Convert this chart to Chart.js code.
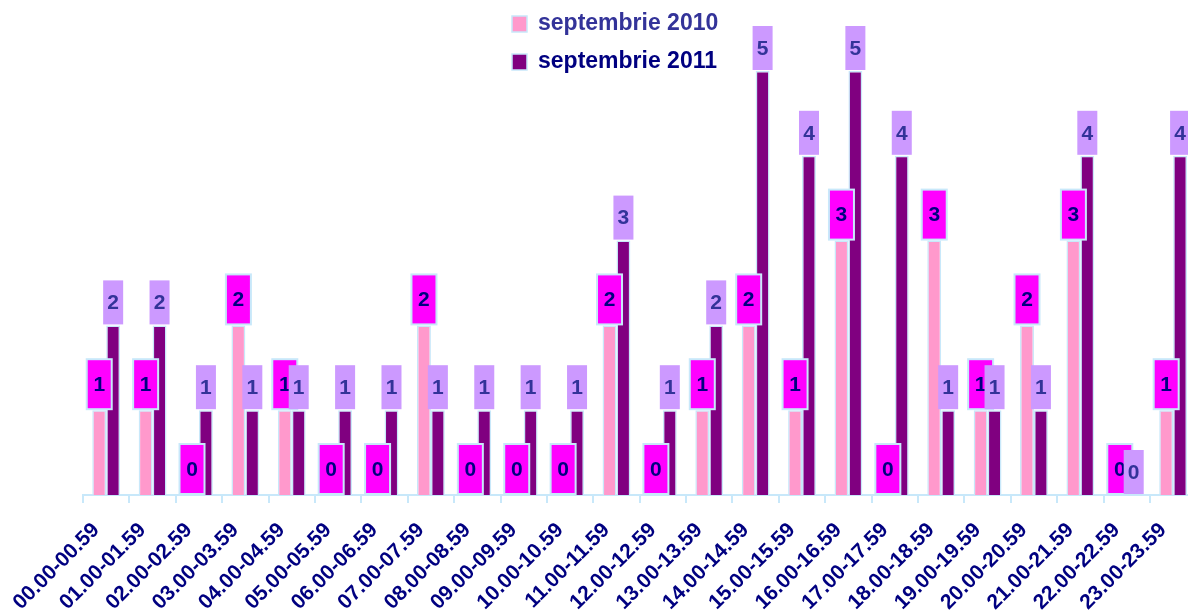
<!DOCTYPE html>
<html>
<head>
<meta charset="utf-8">
<script src="https://cdn.jsdelivr.net/npm/chart.js"></script>
<style>
  html, body { margin: 0; padding: 0; background: #fff; overflow: hidden; }
  #wrap { width: 1188px; height: 610px; overflow: hidden; }
</style>
</head>
<body>
<div id="wrap"><canvas id="c" width="1206" height="610"></canvas></div>
<script>
const categories = [
  '00.00-00.59', '01.00-01.59', '02.00-02.59', '03.00-03.59', '04.00-04.59', '05.00-05.59',
  '06.00-06.59', '07.00-07.59', '08.00-08.59', '09.00-09.59', '10.00-10.59', '11.00-11.59',
  '12.00-12.59', '13.00-13.59', '14.00-14.59', '15.00-15.59', '16.00-16.59', '17.00-17.59',
  '18.00-18.59', '19.00-19.59', '20.00-20.59', '21.00-21.59', '22.00-22.59', '23.00-23.59'
];
const seriesNames = ['septembrie 2010', 'septembrie 2011'];
const sept2010 = [1, 1, 0, 2, 1, 0, 0, 2, 0, 0, 0, 2, 0, 1, 2, 1, 3, 0, 3, 1, 2, 3, 0, 1];
const sept2011 = [2, 2, 1, 1, 1, 1, 1, 1, 1, 1, 1, 3, 1, 2, 5, 4, 5, 4, 1, 1, 1, 4, 0, 4];

const FONT = '"Liberation Sans", Arial, sans-serif';
const edge = '#c8e8fa';

// boxed value labels above each bar
const boxLabels = {
  id: 'boxLabels',
  afterDatasetsDraw(chart) {
    const ctx = chart.ctx;
    const styles = [
      { fill: '#ff00ff', text: '#000080', w: 25, h: 50, border: true },
      { fill: '#cc99ff', text: '#333399', w: 20, h: 44, border: false }
    ];
    ctx.save();
    ctx.font = 'bold 21px ' + FONT;
    ctx.textAlign = 'center';
    ctx.textBaseline = 'middle';
    chart.data.datasets.forEach((ds, di) => {
      const s = styles[di];
      chart.getDatasetMeta(di).data.forEach((bar, i) => {
        const x = bar.x - s.w / 2;
        const y = bar.y - 1 - s.h;
        ctx.fillStyle = s.fill;
        ctx.fillRect(x, y, s.w, s.h);
        if (s.border) {
          ctx.strokeStyle = edge;
          ctx.lineWidth = 2;
          ctx.strokeRect(x, y, s.w, s.h);
        }
        ctx.fillStyle = s.text;
        ctx.fillText(String(ds.data[i]), bar.x, y + s.h / 2 + 1);
      });
    });
    ctx.restore();
  }
};

// stacked legend at the top
const stackedLegend = {
  id: 'stackedLegend',
  afterDraw(chart) {
    const ctx = chart.ctx;
    const colors = ['#333399', '#000080'];
    ctx.save();
    ctx.font = 'bold 23px ' + FONT;
    ctx.textBaseline = 'middle';
    chart.data.datasets.forEach((ds, di) => {
      const cy = 24 + di * 38;
      ctx.fillStyle = ds.backgroundColor;
      ctx.fillRect(512, cy - 8, 15, 16);
      ctx.strokeStyle = edge;
      ctx.lineWidth = 1.5;
      ctx.strokeRect(512, cy - 8, 15, 16);
      ctx.fillStyle = colors[di];
      ctx.fillText(ds.label, 538, cy);
    });
    ctx.restore();
  }
};

new Chart(document.getElementById('c'), {
  type: 'bar',
  data: {
    labels: categories,
    datasets: [
      {
        label: seriesNames[0],
        data: sept2010,
        backgroundColor: '#ff99cc',
        borderColor: edge,
        borderWidth: 1.5
      },
      {
        label: seriesNames[1],
        data: sept2011,
        backgroundColor: '#800080',
        borderColor: edge,
        borderWidth: 1.5
      }
    ]
  },
  options: {
    responsive: false,
    animation: false,
    categoryPercentage: 0.6,
    barPercentage: 1,
    layout: { padding: { top: 71, left: 83, right: 2, bottom: 0 } },
    plugins: {
      legend: { display: false },
      tooltip: { enabled: false }
    },
    scales: {
      y: {
        display: false,
        min: 0,
        max: 5
      },
      x: {
        afterFit(scale) { scale.height = 115; },
        border: { color: edge, width: 2 },
        grid: {
          offset: true,
          drawOnChartArea: false,
          drawTicks: true,
          tickLength: 8,
          color: edge,
          lineWidth: 2
        },
        ticks: {
          color: '#000080',
          font: { family: FONT, size: 21, weight: 'bold' },
          minRotation: 45,
          maxRotation: 45,
          padding: 15,
          labelOffset: -10,
          autoSkip: false
        }
      }
    }
  },
  plugins: [boxLabels, stackedLegend]
});
</script>
</body>
</html>
